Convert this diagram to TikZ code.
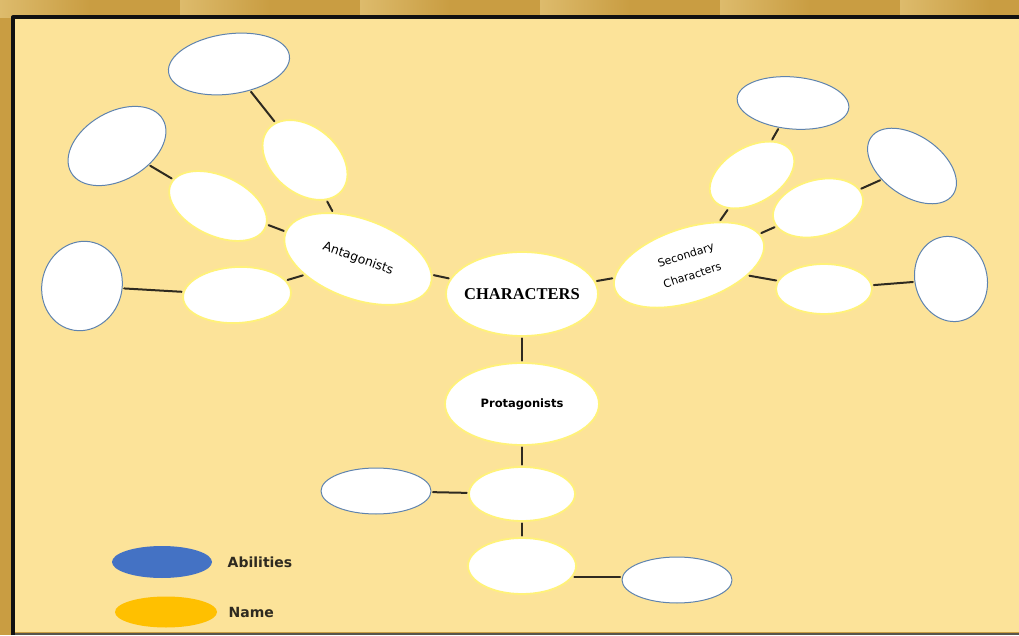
\documentclass[tikz,border=0pt]{standalone}
\usepackage{fontspec}
\setmainfont{DejaVu Sans}
\newfontfamily\titlefont{Liberation Serif}
\usetikzlibrary{shapes.geometric,positioning}
\definecolor{cream}{HTML}{FCE399}
\definecolor{gold}{HTML}{C99D42}
\definecolor{goldlight}{HTML}{DDBB6C}
\definecolor{frame}{HTML}{111111}
\definecolor{ink}{HTML}{2E2A20}
\definecolor{glow}{HTML}{FFF27A}
\definecolor{rim}{HTML}{5F83AE}
\definecolor{keyblue}{HTML}{4472C4}
\definecolor{keygold}{HTML}{FFC000}

\begin{document}
\begin{tikzpicture}[x=1pt,y=1pt,line cap=round,line join=round,
  namebox/.style={ellipse,fill=white,draw=glow,line width=1.8pt,inner sep=0pt},
  abilitybox/.style={ellipse,fill=white,draw=rim,line width=1pt,inner sep=0pt},
  esize/.style 2 args={minimum width=#1pt,minimum height=#2pt},
  link/.style={ink,line width=2pt,shorten <=1.5pt,shorten >=1.5pt},
  keybox/.style={ellipse,inner sep=0pt,draw=none},
  keytext/.style={font=\bfseries\fontsize{14}{16}\selectfont,text=ink}]
  \useasboundingbox (0,0) rectangle (1019,635);

  % page background: gold strip, black frame, cream sheet
  \fill[gold] (0,0) rectangle (1019,635);
  \foreach \xs in {0,180,360,540,720,900}
    \shade[left color=goldlight,right color=gold] (\xs,617) rectangle (\xs+90,635);
  \fill[cream] (15,3) rectangle (1019,616);
  \fill[ink!80] (15,0) rectangle (1019,2.5);
  \draw[frame,line width=4pt,line cap=butt] (13,0) -- (13,617.5) -- (1019,617.5);

  % centre and the three groups
  \node[namebox,esize={152}{84},
    label={[font=\titlefont\bfseries\fontsize{16.5}{18}\selectfont,
            text=black]center:CHARACTERS}] (chars) at (522,341) {};
  \node[namebox,esize={154}{80},rotate=-20,font=\fontsize{12.5}{14}\selectfont]
    (antag) at (358,376) {Antagonists};
  \node[namebox,esize={156}{74},rotate=18,align=center,
    font=\fontsize{11}{21}\selectfont]
    (second) at (689,370) {Secondary\\Characters};
  \node[namebox,esize={154}{82},font=\bfseries\fontsize{11.5}{13}\selectfont]
    (protag) at (522,231) {Protagonists};

  % protagonists branch
  \node[namebox,esize={106}{54}] (protagA) at (522,141) {};
  \node[namebox,esize={108}{56}] (protagB) at (522,69) {};
  \node[abilitybox,esize={110}{46}] (protagAab) at (376,144) {};
  \node[abilitybox,esize={110}{46}] (protagBab) at (677,55) {};

  % antagonists branch
  \node[namebox,esize={96}{66},rotate=-40] (antagA) at (305,475) {};
  \node[namebox,esize={104}{60},rotate=-25] (antagB) at (218,429) {};
  \node[namebox,esize={108}{56},rotate=3] (antagC) at (237,340) {};
  \node[abilitybox,esize={122}{60},rotate=8] (antagAab) at (229,571) {};
  \node[abilitybox,esize={106}{68},rotate=30] (antagBab) at (117,489) {};
  \node[abilitybox,esize={90}{80},rotate=75] (antagCab) at (82,349) {};

  % secondary characters branch
  \node[namebox,esize={92}{56},rotate=30] (secondA) at (752,460) {};
  \node[namebox,esize={92}{56},rotate=15] (secondB) at (818,427) {};
  \node[namebox,esize={96}{50}] (secondC) at (824,346) {};
  \node[abilitybox,esize={112}{52},rotate=-5] (secondAab) at (793,532) {};
  \node[abilitybox,esize={100}{60},rotate=-35] (secondBab) at (912,469) {};
  \node[abilitybox,esize={86}{72},rotate=-75] (secondCab) at (951,356) {};

  % connectors
  \draw[link] (chars) -- (antag);
  \draw[link] (chars) -- (second);
  \draw[link] (chars) -- (protag);
  \draw[link] (protag) -- (protagA);
  \draw[link] (protagA) -- (protagB);
  \draw[link] (protagA) -- (protagAab);
  \draw[link] (protagB.-12) -- (protagBab.west |- protagB.-12);
  \draw[link] (antag) -- (antagA);
  \draw[link] (antag) -- (antagB);
  \draw[link] (antag) -- (antagC);
  \draw[link] (antagA) -- (antagAab);
  \draw[link] (antagB) -- (antagBab);
  \draw[link] (antagC) -- (antagCab);
  \draw[link] (second) -- (secondA);
  \draw[link] (second) -- (secondB);
  \draw[link] (second) -- (secondC);
  \draw[link] (secondA) -- (secondAab);
  \draw[link] (secondB) -- (secondBab);
  \draw[link] (secondC) -- (secondCab);

  % legend
  \node[keybox,fill=keyblue,esize={100}{32}] (keyA) at (162,73) {};
  \node[keybox,fill=keygold,esize={102}{31}] (keyB) at (166,23) {};
  \node[keytext,right=12pt of keyA] (keyAtext) {Abilities};
  \node[keytext,right=8pt of keyB] (keyBtext) {Name};
\end{tikzpicture}
\end{document}
